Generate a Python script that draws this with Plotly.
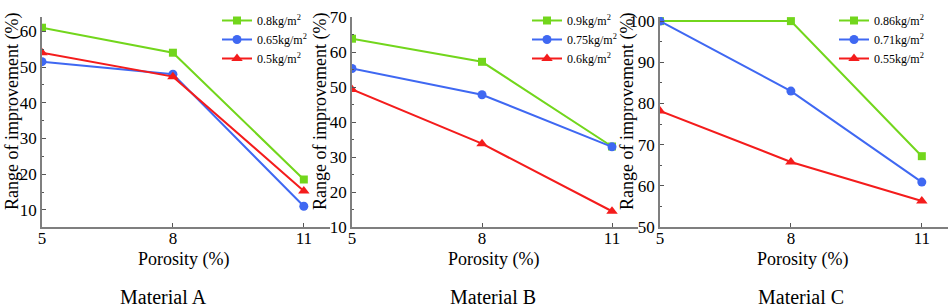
import plotly.graph_objects as go

W, H = 948, 308

porosity = [5, 8, 11]

# Material A
a_labels = ["0.8kg/m<sup>2</sup>", "0.65kg/m<sup>2</sup>", "0.5kg/m<sup>2</sup>"]
a_high = [61.0, 54.0, 18.5]
a_mid = [51.5, 48.0, 11.0]
a_low = [54.0, 47.3, 15.3]

# Material B
b_labels = ["0.9kg/m<sup>2</sup>", "0.75kg/m<sup>2</sup>", "0.6kg/m<sup>2</sup>"]
b_high = [63.8, 57.2, 33.0]
b_mid = [55.3, 47.8, 32.9]
b_low = [49.3, 33.8, 14.5]

# Material C
c_labels = ["0.86kg/m<sup>2</sup>", "0.71kg/m<sup>2</sup>", "0.55kg/m<sup>2</sup>"]
c_high = [100.0, 100.0, 67.2]
c_mid = [100.0, 83.0, 60.9]
c_low = [78.2, 65.8, 56.3]

panel_titles = ["Material A", "Material B", "Material C"]
x_title = "Porosity (%)"
y_title = "Range of improvement (%)"

FONT = "Times New Roman, Liberation Serif, serif"
GREEN, BLUE, RED = "#72D61C", "#3F68F2", "#F41C1C"
AXC = "#7f7f7f"

def px(x):
    return x / W

def py(y):
    return 1 - y / H

fig = go.Figure()

panels = [
    (a_labels, a_high, a_mid, a_low, (42, 330), [5.2, 64], [10, 20, 30, 40, 50, 60], "legend", 217),
    (b_labels, b_high, b_mid, b_low, (352, 638), [10, 70], [10, 20, 30, 40, 50, 60, 70], "legend2", 527),
    (c_labels, c_high, c_mid, c_low, (660, 948), [50, 101], [50, 60, 70, 80, 90, 100], "legend3", 834),
]

styles = [(GREEN, "square", 8), (BLUE, "circle", 9), (RED, "triangle-up", 10)]

for i, (labels, hi, mi, lo, (x0, x1), yr, yt, leg, legx) in enumerate(panels):
    n = "" if i == 0 else str(i + 1)
    for lab, vals, (col, sym, sz) in zip(labels, [hi, mi, lo], styles):
        fig.add_trace(go.Scatter(
            x=porosity, y=vals, name=lab, mode="lines+markers",
            line=dict(color=col, width=2),
            marker=dict(color=col, symbol=sym, size=sz),
            xaxis="x" + n, yaxis="y" + n, legend=leg,
        ))
    fig.update_layout(**{
        "xaxis" + n: dict(
            domain=[px(x0), px(x1)], range=[5, 11.6], anchor="y" + n,
            tickvals=porosity, ticks="inside", ticklen=4, tickcolor="#555",
            ticklabelstandoff=-5,
            showline=True, linecolor=AXC, linewidth=1.5, showgrid=False, zeroline=False,
            tickfont=dict(family=FONT, size=17, color="black"), automargin=False,
        ),
        "yaxis" + n: dict(
            domain=[py(227), py(17)], range=yr, anchor="x" + n,
            tickvals=yt, ticks="inside", ticklen=4, tickcolor="#555",
            minor=dict(ticks="inside", ticklen=2, dtick=5, tickcolor="#555"),
            showline=True, linecolor=AXC, linewidth=1.5, showgrid=False, zeroline=False,
            tickfont=dict(family=FONT, size=17, color="black"), automargin=False,
        ),
        leg: dict(
            x=px(legx), y=py(6), xanchor="left", yanchor="top",
            bgcolor="rgba(0,0,0,0)", borderwidth=0, tracegroupgap=0,
            font=dict(family=FONT, size=12, color="black"),
        ),
    })

ytitle_x = [12, 320, 627]
ptitle_x = [184, 494, 803]
mat_x = [163, 493, 801]
ann = []
for i in range(3):
    ann.append(dict(x=px(ytitle_x[i]), y=py(112), xref="paper", yref="paper",
                    text=y_title, textangle=-90, showarrow=False,
                    font=dict(family=FONT, size=18, color="black"),
                    xanchor="center", yanchor="middle"))
    ann.append(dict(x=px(ptitle_x[i]), y=py(259), xref="paper", yref="paper",
                    text=x_title, showarrow=False,
                    font=dict(family=FONT, size=18, color="black"),
                    xanchor="center", yanchor="middle"))
    ann.append(dict(x=px(mat_x[i]), y=py(297), xref="paper", yref="paper",
                    text=panel_titles[i], showarrow=False,
                    font=dict(family=FONT, size=20, color="black"),
                    xanchor="center", yanchor="middle"))

fig.update_layout(
    width=W, height=H, margin=dict(l=0, r=0, t=0, b=0),
    paper_bgcolor="white", plot_bgcolor="white",
    showlegend=True, annotations=ann,
    font=dict(family=FONT, color="black"),
)

fig.write_html("out.html", config={"displayModeBar": False},
               post_script="document.body.style.margin='0';")
